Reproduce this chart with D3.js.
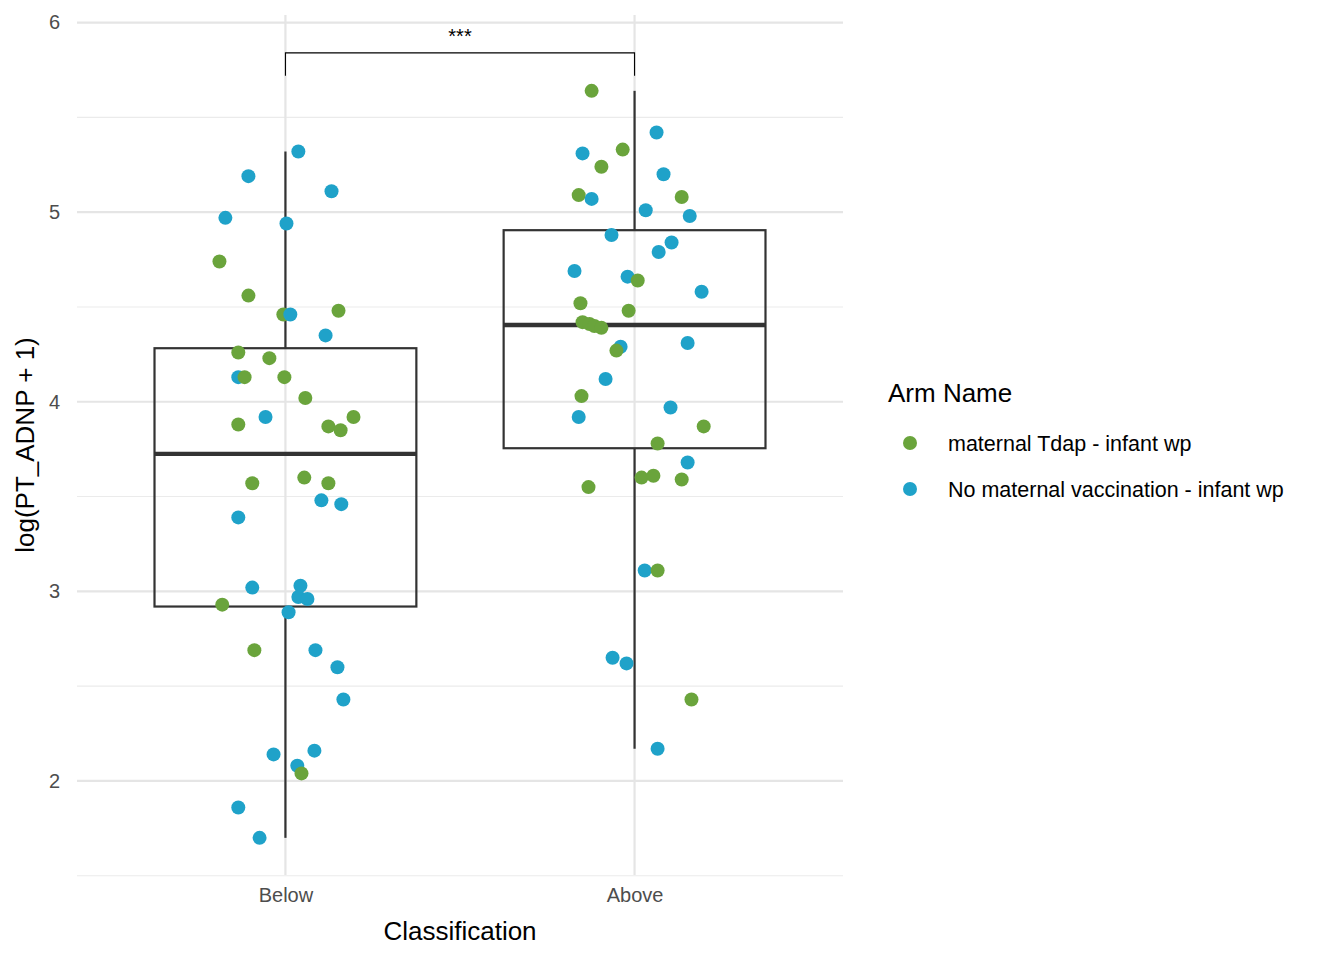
<!DOCTYPE html>
<html>
<head>
<script src="https://d3js.org/d3.v7.min.js"></script>
<style>body{margin:0;background:#fff;font-family:"Liberation Sans",Arial,sans-serif;}</style>
</head>
<body>
<div id="chart"></div>
<script>
var categories = ["Below", "Above"];
var armNames = ["maternal Tdap - infant wp", "No maternal vaccination - infant wp"];
var armColors = ["#6aa43c", "#1fa2c9"];
var yTicks = [2, 3, 4, 5, 6];
// arm index (0 green, 1 blue), jitter offset, value
var belowArm = [1,1,1,1,1,0,0,0,1,0,1,0,0,1,0,0,0,1,0,0,0,0,0,0,0,1,1,1,1,1,1,1,0,1,0,1,1,1,1,1,1,0,1,1];
var belowJit = [-.106,-.172,.037,.132,.003,-.189,-.106,-.006,.014,.152,.115,-.135,-.046,-.135,-.117,-.003,.057,-.057,-.135,.123,.158,.195,.054,-.095,.123,.103,.160,-.135,-.095,.043,.037,.063,-.181,.009,-.089,.086,.149,.166,-.034,.083,.034,.046,-.135,-.074];
var belowVal = [5.19,4.97,5.32,5.11,4.94,4.74,4.56,4.46,4.46,4.48,4.35,4.26,4.23,4.13,4.13,4.13,4.02,3.92,3.88,3.87,3.85,3.92,3.60,3.57,3.57,3.48,3.46,3.39,3.02,3.03,2.97,2.96,2.93,2.89,2.69,2.69,2.60,2.43,2.14,2.16,2.08,2.04,1.86,1.70];
var aboveArm = [0,1,1,0,0,1,0,1,0,1,1,1,1,1,1,1,0,1,0,0,0,0,0,0,1,1,0,1,0,1,1,0,0,1,0,0,0,0,1,0,1,1,0,1];
var aboveJit = [-.123,.063,-.149,-.034,-.095,.083,-.160,-.123,.135,.032,.158,-.066,.106,.069,-.172,-.020,.009,.192,-.155,-.017,-.149,-.129,-.115,-.095,.152,-.040,-.052,-.083,-.152,.103,-.160,.198,.066,.152,.020,.054,.135,-.132,.029,.066,-.063,-.023,.163,.066];
var aboveVal = [5.64,5.42,5.31,5.33,5.24,5.20,5.09,5.07,5.08,5.01,4.98,4.88,4.84,4.79,4.69,4.66,4.64,4.58,4.52,4.48,4.42,4.41,4.40,4.39,4.31,4.29,4.27,4.12,4.03,3.97,3.92,3.87,3.78,3.68,3.60,3.61,3.59,3.55,3.11,3.11,2.65,2.62,2.43,2.17];

var groups = [
  {cat: "Below", arm: belowArm, jit: belowJit, val: belowVal},
  {cat: "Above", arm: aboveArm, jit: aboveJit, val: aboveVal}
];

var W = 1344, H = 960;
var svg = d3.select("#chart").append("svg").attr("width", W).attr("height", H);
var pLeft = 77, pRight = 843, pTop = 15, pBottom = 875;
var x = d3.scalePoint().domain(categories).range([pLeft, pRight]).padding(0.597);
var step = x(categories[1]) - x(categories[0]);
var y = d3.scaleLinear().domain([1.504, 6.04]).range([pBottom, pTop]);

// grid
var minor = [1.5, 2.5, 3.5, 4.5, 5.5];
svg.selectAll(".gm").data(minor).enter().append("line")
  .attr("x1", pLeft).attr("x2", pRight).attr("y1", d => y(d)).attr("y2", d => y(d))
  .attr("stroke", "#ebebeb").attr("stroke-width", 1.1);
svg.selectAll(".gy").data(yTicks).enter().append("line")
  .attr("x1", pLeft).attr("x2", pRight).attr("y1", d => y(d)).attr("y2", d => y(d))
  .attr("stroke", "#e5e5e5").attr("stroke-width", 2.2);
svg.selectAll(".gx").data(categories).enter().append("line")
  .attr("x1", d => x(d)).attr("x2", d => x(d)).attr("y1", pTop).attr("y2", pBottom)
  .attr("stroke", "#e5e5e5").attr("stroke-width", 2.2);

// axes
var yAxis = svg.append("g").attr("transform", "translate(" + (pLeft - 14) + ",0)")
  .call(d3.axisLeft(y).tickValues(yTicks).tickSize(0).tickFormat(d3.format("d")));
yAxis.select(".domain").remove();
yAxis.selectAll("text").attr("fill", "#4d4d4d").style("font-size", "20px").style("font-family", "Liberation Sans");
var xAxis = svg.append("g").attr("transform", "translate(0," + (pBottom + 6) + ")")
  .call(d3.axisBottom(x).tickSize(0));
xAxis.select(".domain").remove();
xAxis.selectAll("text").attr("fill", "#4d4d4d").attr("dy", "0.9em").style("font-size", "20px").style("font-family", "Liberation Sans");

svg.append("text").attr("x", (pLeft + pRight) / 2).attr("y", 940).attr("text-anchor", "middle")
  .style("font-size", "26px").text("Classification");
svg.append("text").attr("transform", "translate(34," + ((pTop + pBottom) / 2) + ") rotate(-90)")
  .attr("text-anchor", "middle").style("font-size", "26px").text("log(PT_ADNP + 1)");

// boxplots
groups.forEach(function(g) {
  var s = g.val.slice().sort(d3.ascending);
  var q1 = d3.quantile(s, 0.25), med = d3.quantile(s, 0.5), q3 = d3.quantile(s, 0.75);
  var iqr = q3 - q1;
  var lo = d3.min(s.filter(v => v >= q1 - 1.5 * iqr)), hi = d3.max(s.filter(v => v <= q3 + 1.5 * iqr));
  var cx = x(g.cat), bw = step * 0.75;
  var b = svg.append("g").attr("stroke", "#333").attr("fill", "none");
  b.append("line").attr("x1", cx).attr("x2", cx).attr("y1", y(hi)).attr("y2", y(q3)).attr("stroke-width", 2.2);
  b.append("line").attr("x1", cx).attr("x2", cx).attr("y1", y(q1)).attr("y2", y(lo)).attr("stroke-width", 2.2);
  b.append("rect").attr("x", cx - bw / 2).attr("width", bw).attr("y", y(q3)).attr("height", y(q1) - y(q3)).attr("stroke-width", 2.2);
  b.append("line").attr("x1", cx - bw / 2).attr("x2", cx + bw / 2).attr("y1", y(med)).attr("y2", y(med)).attr("stroke-width", 4.4);
});

// points
groups.forEach(function(g) {
  var pts = g.val.map((v, i) => ({v: v, a: g.arm[i], j: g.jit[i]}));
  svg.append("g").selectAll("circle").data(pts).enter().append("circle")
    .attr("cx", d => x(g.cat) + d.j * step).attr("cy", d => y(d.v)).attr("r", 7)
    .attr("fill", d => armColors[d.a]);
});

// significance bracket
var by = y(5.84), bt = y(5.72);
svg.append("path").attr("fill", "none").attr("stroke", "#000").attr("stroke-width", 1.1)
  .attr("d", "M" + x("Below") + "," + bt + "V" + by + "H" + x("Above") + "V" + bt);
svg.append("text").attr("x", (x("Below") + x("Above")) / 2).attr("y", by - 10).attr("text-anchor", "middle")
  .style("font-size", "20px").text("***");

// legend
svg.append("text").attr("x", 888).attr("y", 402).style("font-size", "26px").text("Arm Name");
armNames.forEach(function(n, i) {
  svg.append("circle").attr("cx", 910).attr("cy", 443 + i * 46).attr("r", 7).attr("fill", armColors[i]);
  svg.append("text").attr("x", 948).attr("y", 451 + i * 46).style("font-size", "21.5px").text(n);
});
</script>
</body>
</html>
